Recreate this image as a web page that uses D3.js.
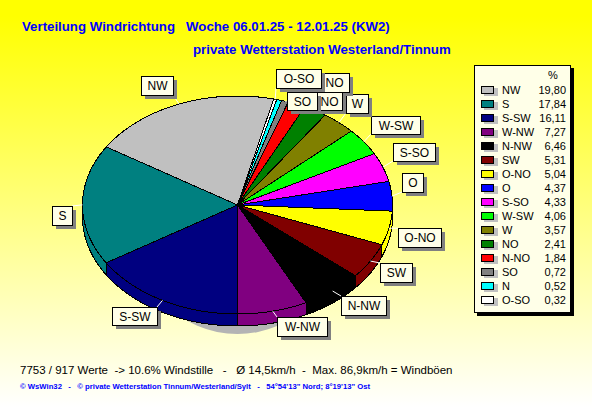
<!DOCTYPE html>
<html><head><meta charset="utf-8">
<script src="https://cdnjs.cloudflare.com/ajax/libs/d3/7.8.5/d3.min.js"></script>
<style>html,body{margin:0;padding:0;background:#fff;overflow:hidden}svg{display:block}text{font-family:"Liberation Sans",Arial,sans-serif}</style>
</head><body><svg id="c" width="592" height="407"></svg>
<script>
const directions=["NW","S","S-SW","W-NW","N-NW","SW","O-NO","O","S-SO","W-SW","W","NO","N-NO","SO","N","O-SO"];
const shares=[19.80,17.84,16.11,7.27,6.46,5.31,5.04,4.37,4.33,4.06,3.57,2.41,1.84,0.72,0.52,0.32];
const shareLabels=["19,80","17,84","16,11","7,27","6,46","5,31","5,04","4,37","4,33","4,06","3,57","2,41","1,84","0,72","0,52","0,32"];
const colours=["#c0c0c0","#008080","#000080","#800080","#000000","#800000","#ffff00","#0000ff","#ff00ff","#00ff00","#808000","#008000","#ff0000","#808080","#00ffff","#ffffff"];
const pieOrder=["O-SO","N","SO","N-NO","NO","W","W-SW","S-SO","O","O-NO","SW","N-NW","W-NW","S-SW","S","NW"];
const boxes={NW:[141,76,173,95],S:[52,206,72,225],"S-SW":[112,307,157,325],"W-NW":[277,317,327,336],"N-NW":[341,296,386,315],SW:[380,263,412,282],"O-NO":[398,228,441,247],O:[402,173,423,192],"S-SO":[393,143,435,161],"W-SW":[371,116,420,134],W:[346,94,368,113],NO:[319,73,349,92],"N-NO":[303,92,342,110],SO:[287,92,317,110],"O-SO":[276,69,321,88]};
const boxOrder=["NW","S","S-SW","W-NW","N-NW","SW","O-NO","O","S-SO","W-SW","W","NO","N-NO","SO","O-SO"];
// the N-NO box lies partly under the SO box: only the part "NO" can be read
const shownText={"N-NO":{text:"NO",x:329.5}};

const svg=d3.select("#c");
const defs=svg.append("defs");
const g=defs.append("linearGradient").attr("id","bg").attr("x1",0).attr("y1",0).attr("x2",0).attr("y2",1);
g.append("stop").attr("offset","4%").attr("stop-color","#ffff00");
g.append("stop").attr("offset","100%").attr("stop-color","#ffffff");
svg.append("rect").attr("width",592).attr("height",407).attr("fill","url(#bg)");

svg.append("text").attr("x",22).attr("y",31).attr("font-size",13.25).attr("font-weight","bold").attr("fill","#0000ff").attr("xml:space","preserve").text("Verteilung Windrichtung   Woche 06.01.25 - 12.01.25 (KW2)");
svg.append("text").attr("x",193).attr("y",54).attr("font-size",13.25).attr("font-weight","bold").attr("fill","#0000ff").text("private Wetterstation Westerland/Tinnum");

const cx=237.5,cy=205,rx=155,ry=109,depth=12;
const share=d=>shares[directions.indexOf(d)], colour=d=>colours[directions.indexOf(d)];
const startAngle=13.5*Math.PI/180;
const arcs=d3.pie().sort(null).value(share).startAngle(startAngle).endAngle(startAngle+2*Math.PI)(pieOrder);
const X=d3.scaleLinear().domain([-1,1]).range([cx-rx,cx+rx]);
const Y=d3.scaleLinear().domain([-1,1]).range([cy-ry,cy+ry]);
const pt=(a,k=1)=>[X(k*Math.sin(a)),Y(-k*Math.cos(a))];
const line=d3.line();
const edge=(a0,a1,k=1,dy=0)=>{const n=Math.max(2,Math.ceil((a1-a0)*60));return d3.range(n+1).map(i=>{const a=a0+(a1-a0)*i/n,p=pt(a,k);return [p[0],p[1]+dy];});};

// drop shadow of the pie
svg.append("ellipse").attr("cx",cx).attr("cy",cy+20).attr("rx",105).attr("ry",ry).attr("fill","#b4b4b4");
const pieG=svg.append("g").attr("shape-rendering","crispEdges");
const wall=Math.PI/2, wallEnd=Math.PI*1.5;
arcs.forEach(d=>{
  for(const shift of [0,2*Math.PI]){
    const a0=Math.max(d.startAngle,wall+shift),a1=Math.min(d.endAngle,wallEnd+shift);
    if(a1<=a0)continue;
    const top=edge(a0,a1),bot=edge(a0,a1,1,depth).reverse();
    pieG.append("path").attr("d",line(top.concat(bot))+"Z").attr("fill",colour(d.data)).attr("stroke","#000");
  }
});
arcs.forEach(d=>{
  pieG.append("path").attr("d",line([[cx,cy]].concat(edge(d.startAngle,d.endAngle)))+"Z").attr("fill",colour(d.data)).attr("stroke","#000");
});
// leader ticks
arcs.forEach(d=>{
  if(!boxes[d.data])return;
  const a=(d.startAngle+d.endAngle)/2;
  const b=boxes[d.data];
  const p=pt(a);
  const q=[Math.max(b[0],Math.min(b[2],p[0])),Math.max(b[1],Math.min(b[3],p[1]))];
  svg.append("line").attr("x1",p[0]).attr("y1",p[1]).attr("x2",q[0]).attr("y2",q[1]).attr("stroke","#fff");
});
// label boxes
boxOrder.forEach(n=>{
  const b=boxes[n];
  svg.append("rect").attr("x",b[0]+4).attr("y",b[1]+4).attr("width",b[2]-b[0]).attr("height",b[3]-b[1]).attr("fill","#808080");
  svg.append("rect").attr("x",b[0]+.5).attr("y",b[1]+.5).attr("width",b[2]-b[0]).attr("height",b[3]-b[1]).attr("fill","#ffffe8").attr("stroke","#000");
  const s=shownText[n]||{text:n,x:(b[0]+b[2])/2+.5};
  svg.append("text").attr("x",s.x).attr("y",(b[1]+b[3])/2+4.5).attr("text-anchor","middle").attr("font-size",12).attr("fill","#000").text(s.text);
});
// legend
svg.append("rect").attr("x",477).attr("y",68).attr("width",97).attr("height",248).attr("fill","#000");
svg.append("rect").attr("x",474.5).attr("y",65.5).attr("width",96).attr("height",247).attr("fill","#ffffe8").attr("stroke","#000");
svg.append("text").attr("x",553).attr("y",79).attr("text-anchor","middle").attr("font-size",11).text("%");
const rowY=d3.scalePoint().domain(directions).range([91,301]);
directions.forEach((n,i)=>{
  const y=rowY(n);
  svg.append("rect").attr("x",484).attr("y",y-3).attr("width",14).attr("height",8).attr("fill","#c0c0c0");
  svg.append("rect").attr("x",481.5).attr("y",y-4.5).attr("width",12).attr("height",7).attr("fill",colour(n)).attr("stroke","#000");
  svg.append("text").attr("x",502).attr("y",y+3).attr("font-size",11).text(n);
  svg.append("text").attr("x",566).attr("y",y+3).attr("text-anchor","end").attr("font-size",11).text(shareLabels[i]);
});
svg.append("text").attr("x",20).attr("y",374).attr("font-size",11.5).attr("xml:space","preserve").text("7753 / 917 Werte  -> 10.6% Windstille   -   Ø 14,5km/h  -  Max. 86,9km/h = Windböen");
svg.append("text").attr("x",20).attr("y",389).attr("font-size",7.7).attr("font-weight","bold").attr("fill","#0000ff").attr("xml:space","preserve").text("© WsWin32   -   © private Wetterstation Tinnum/Westerland/Sylt   -   54°54'13\" Nord; 8°19'13\" Ost");
</script></body></html>
